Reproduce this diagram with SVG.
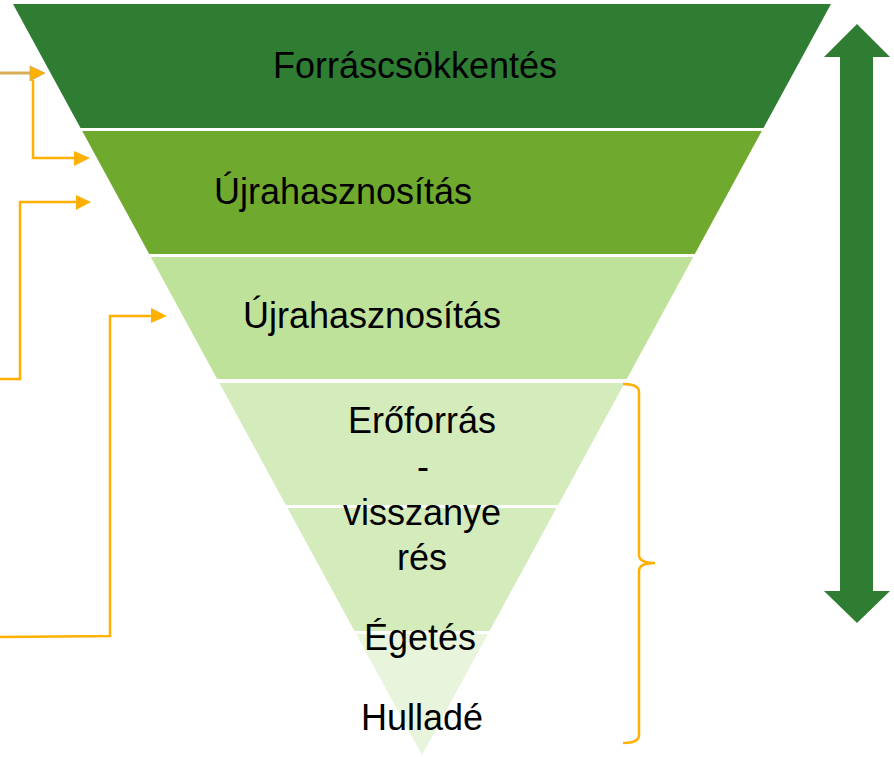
<svg xmlns="http://www.w3.org/2000/svg" width="894" height="757" viewBox="0 0 894 757">
  <style>
    .lbl { font-family: "Liberation Sans", Arial, sans-serif; font-size: 36px; fill: #000; text-anchor: middle; }
    .conn { fill: none; stroke: #FFB000; stroke-width: 2.5; stroke-linejoin: miter; }
    .head { fill: #FFB000; }
  </style>
  <rect width="894" height="757" fill="#fff"/>
  <g id="band1">
    <polygon points="13,4 831,4 763.5,128 80.5,128" fill="#2E7D32"/>
    <text class="lbl" x="415" y="78">Forráscsökkentés</text>
  </g>
  <g id="band2">
    <polygon points="82.2,131 761.8,131 694.8,254 149.2,254" fill="#6FAA2F"/>
    <text class="lbl" x="343" y="204">Újrahasznosítás</text>
  </g>
  <g id="band3">
    <polygon points="150.8,257 693.2,257 626.8,379 217.2,379" fill="#BFE29A"/>
    <text class="lbl" x="372" y="328">Újrahasznosítás</text>
  </g>
  <g id="band4">
    <polygon points="219.4,383 624.6,383 558.2,505 285.8,505" fill="#D4EBBB"/>
  </g>
  <g id="band5">
    <polygon points="287.5,508 556.5,508 489.5,631 354.5,631" fill="#D4EBBB"/>
  </g>
  <g id="band6">
    <polygon points="356.1,634 487.9,634 422,755" fill="#E8F5DC"/>
  </g>
  <g id="band4-label">
    <text class="lbl" x="422" y="433">Erőforrás</text>
    <text class="lbl" x="423" y="479">-</text>
    <text class="lbl" x="422" y="525">visszanye</text>
    <text class="lbl" x="422" y="570">rés</text>
  </g>
  <g id="band6-label">
    <text class="lbl" x="420" y="650">Égetés</text>
    <text class="lbl" x="422" y="730">Hulladé</text>
  </g>
  <g id="double-arrow">
    <polygon points="857,24 890,57 873,57 873,591 890,591 857,623 824,591 840,591 840,57 824,57" fill="#2E7D32"/>
  </g>
  <g id="brace">
    <path class="conn" d="M623,384 Q639,384 639,392 L639,555 Q639,563 655,563 Q639,563 639,571 L639,735 Q639,743 623,743"/>
  </g>
  <g id="connectors">
    <line x1="0" y1="73" x2="31" y2="73" stroke="#D8AE55" stroke-width="3"/>
    <polygon points="30,66 45,73 30,81" fill="#FFB000" stroke="#C9A862" stroke-width="0.8"/>
    <polyline class="conn" points="33,80 33,158 75,158"/>
    <polygon class="head" points="74,151 90,158 74,166"/>
    <polyline class="conn" points="0,379 20,379 20,202 77,202"/>
    <polygon class="head" points="76,195 91,202 76,210"/>
    <polyline class="conn" points="0,637 110,636 110,316 152,316"/>
    <polygon class="head" points="151,308 167,316 151,323"/>
  </g>
</svg>
